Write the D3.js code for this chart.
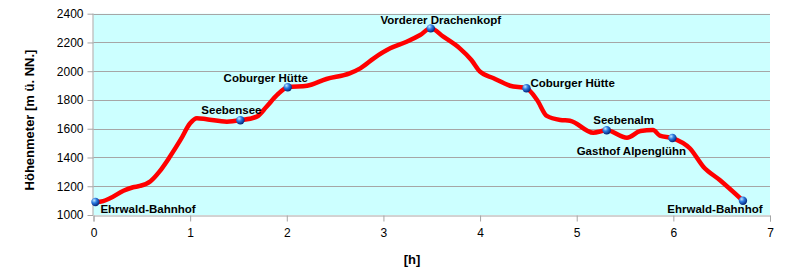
<!DOCTYPE html>
<html>
<head>
<meta charset="utf-8">
<script src="https://cdn.jsdelivr.net/npm/d3@7"></script>
<style>
  body { margin: 0; background: #fff; }
  svg { display: block; font-family: "Liberation Sans", Arial, sans-serif; }
</style>
</head>
<body>
<svg width="797" height="279"></svg>
<script>
// profile (hours, metres)
const hours = [0.02, 0.1, 0.17, 0.31, 0.41, 0.48, 0.59, 0.68, 0.79, 0.9, 1.0, 1.07, 1.17, 1.38, 1.52, 1.69, 1.79, 1.9, 2.01,
    2.21, 2.41, 2.65, 2.76, 2.9, 3.07, 3.24, 3.38, 3.49, 3.62, 3.79, 3.91, 4.0, 4.14, 4.31, 4.48,
    4.59, 4.69, 4.83, 4.93, 5.17, 5.31, 5.52, 5.66, 5.79, 5.86, 5.99, 6.17, 6.31, 6.48, 6.72];
const elev = [1090, 1097, 1116, 1169, 1193, 1202, 1235, 1300, 1405, 1522, 1638, 1673, 1666, 1649, 1659, 1684, 1753, 1835, 1888,
    1899, 1946, 1985, 2020, 2090, 2159, 2205, 2252, 2298, 2240, 2159, 2078, 1997, 1951, 1899, 1881,
    1800, 1689, 1661, 1656, 1572, 1589, 1538, 1584, 1591, 1552, 1535, 1464, 1336, 1243, 1099];

// stops
const stopNames = ["Ehrwald-Bahnhof", "Seebensee", "Coburger Hütte", "Vorderer Drachenkopf", "Coburger Hütte",
    "Seebenalm", "Gasthof Alpenglühn", "Ehrwald-Bahnhof"];
const stopHours = [0.02, 1.52, 2.01, 3.49, 4.48, 5.31, 5.99, 6.72];
const stopElev = [1090, 1659, 1888, 2298, 1881, 1589, 1535, 1099];

const xTicks = [0, 1, 2, 3, 4, 5, 6, 7];
const yTicks = [1000, 1200, 1400, 1600, 1800, 2000, 2200, 2400];

// label placement per stop: [anchor, dx, dy]
const lblPos = [["start", 5, 11], ["middle", -9, -6], ["middle", -22, -5], ["middle", 10, -4],
    ["start", 4, -1], ["middle", 17, -6], ["middle", -41, 17], ["middle", -28, 12]];

const sv = d3.select("svg");
const L = 93.5, R = 770, T = 13.7, B = 215;

const x = d3.scaleLinear().domain([0, 7]).range([L, R]);
const y = d3.scaleLinear().domain([1000, 2400]).range([B, T]);

const defs = sv.append("defs");
const gr = defs.append("radialGradient").attr("id", "ball")
    .attr("cx", "35%").attr("cy", "30%").attr("r", "70%");
gr.append("stop").attr("offset", "0%").attr("stop-color", "#bfe6ff");
gr.append("stop").attr("offset", "45%").attr("stop-color", "#2a7ae0");
gr.append("stop").attr("offset", "100%").attr("stop-color", "#06257a");

sv.append("rect")
    .attr("x", L).attr("y", T)
    .attr("width", R - L).attr("height", B - T)
    .attr("fill", "#ccffff");

// grid
sv.append("g")
    .selectAll("line")
    .data(yTicks.slice(1))
    .enter()
    .append("line")
    .attr("x1", L).attr("x2", R)
    .attr("y1", d => Math.round(y(d)) + 0.5)
    .attr("y2", d => Math.round(y(d)) + 0.5)
    .attr("stroke", "#a6a6a6");

const yAx = sv.append("g")
    .attr("transform", "translate(" + L + ",0)")
    .call(d3.axisLeft(y).tickValues(yTicks).tickSize(6).tickPadding(4).tickFormat(d3.format("d")));
const xAx = sv.append("g")
    .attr("transform", "translate(0," + (Math.round(B) + 0.5) + ")")
    .call(d3.axisBottom(x).tickValues(xTicks).tickSize(6).tickPadding(7).tickFormat(d3.format("d")));

[yAx, xAx].forEach(function (a) {
    a.select(".domain").attr("stroke", "#a6a6a6");
    a.selectAll(".tick line").attr("stroke", "#a6a6a6");
    a.selectAll("text")
        .attr("fill", "#000")
        .style("font-family", "'Liberation Sans', Arial, sans-serif")
        .style("font-size", "12px");
});
yAx.select(".domain").attr("d", "M-0.5," + B + "V" + T);

// profile line
const ln = d3.line()
    .x((d, i) => x(hours[i]))
    .y(d => y(d))
    .curve(d3.curveMonotoneX);

sv.append("path")
    .datum(elev)
    .attr("d", ln)
    .attr("fill", "none")
    .attr("stroke", "#ff0000")
    .attr("stroke-width", 4.5)
    .attr("stroke-linejoin", "round")
    .attr("stroke-linecap", "round");

// markers
sv.append("g")
    .selectAll("circle")
    .data(stopHours)
    .enter()
    .append("circle")
    .attr("cx", d => x(d))
    .attr("cy", (d, i) => y(stopElev[i]))
    .attr("r", 4.2)
    .attr("fill", "url(#ball)");

// labels
sv.append("g")
    .selectAll("text")
    .data(stopNames)
    .enter()
    .append("text")
    .attr("x", (d, i) => x(stopHours[i]) + lblPos[i][1])
    .attr("y", (d, i) => y(stopElev[i]) + lblPos[i][2])
    .attr("text-anchor", (d, i) => lblPos[i][0])
    .attr("font-size", "11.5px")
    .attr("font-weight", "bold")
    .attr("fill", "#000")
    .text(d => d);

// axis titles
sv.append("text")
    .attr("transform", "translate(34,120) rotate(-90)")
    .attr("text-anchor", "middle")
    .attr("font-size", "13px")
    .attr("font-weight", "bold")
    .text("Höhenmeter [m ü. NN.]");

sv.append("text")
    .attr("x", 412).attr("y", 264)
    .attr("text-anchor", "middle")
    .attr("font-size", "13px")
    .attr("font-weight", "bold")
    .text("[h]");
</script>
</body>
</html>
